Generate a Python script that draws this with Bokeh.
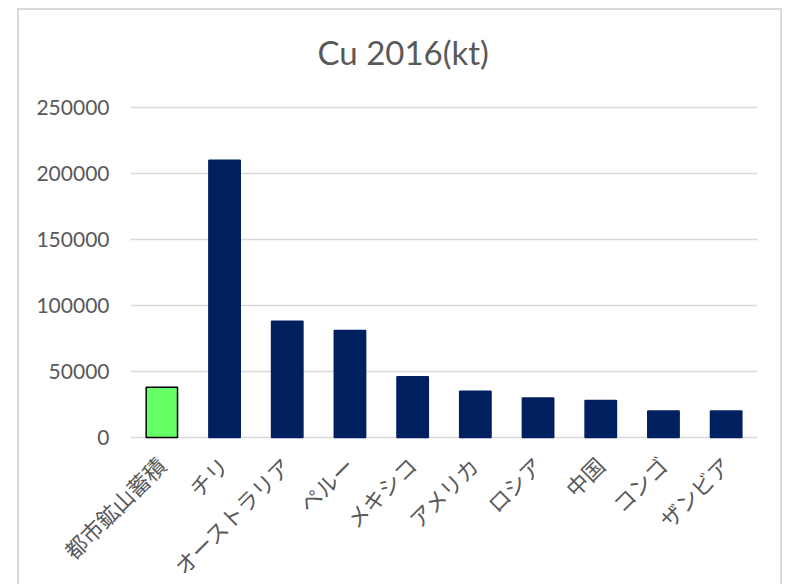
import math
from bokeh.plotting import figure
from bokeh.layouts import row, column
from bokeh.models import Range1d, Label, ColumnDataSource, Spacer
from bokeh.core.properties import value
from bokeh.embed import file_html
from bokeh.resources import INLINE

# ---- data ----
categories = ["都市鉱山蓄積", "チリ", "オーストラリア", "ペルー", "メキシコ",
              "アメリカ", "ロシア", "中国", "コンゴ", "ザンビア"]
values = [38000, 210000, 88000, 81000, 46000, 35000, 30000, 28000, 20000, 20000]
y_ticks = [0, 50000, 100000, 150000, 200000, 250000]
y_tick_labels = ["0", "50000", "100000", "150000", "200000", "250000"]
highlight = "都市鉱山蓄積"
title_text = "Cu 2016(kt)"

n = len(categories)
pos = [i + 0.5 for i in range(n)]          # category slot centres
fill = ["#66FF66" if c == highlight else "#002060" for c in categories]
edge = ["#000000" if c == highlight else "#002060" for c in categories]
src = ColumnDataSource(dict(x=pos, cat=categories, val=values, base=[0] * n,
                            fill=fill, edge=edge))
tsrc = ColumnDataSource(dict(x0=[0] * len(y_ticks), x1=[n] * len(y_ticks),
                             y=y_ticks, lab=y_tick_labels))

# pixel layout of the canvas (frame = whole canvas)
CANVAS_W, CANVAS_H = 765, 576
LEFT, RIGHT = 111, 27          # room left / right of the category slots
ABOVE, PLOT_H = 97, 330        # room above 250000 / height of 0..250000
BELOW = CANVAS_H - ABOVE - PLOT_H
px_per_slot = (CANVAS_W - LEFT - RIGHT) / n
units_per_px = (y_ticks[-1] - y_ticks[0]) / PLOT_H

p = figure(x_range=Range1d(-LEFT / px_per_slot, n + RIGHT / px_per_slot),
           y_range=Range1d(y_ticks[0] - BELOW * units_per_px,
                           y_ticks[-1] + ABOVE * units_per_px),
           width=CANVAS_W, height=CANVAS_H, title=None,
           x_axis_location=None, y_axis_location=None,
           output_backend="svg", toolbar_location=None,
           min_border_left=0, min_border_right=0,
           min_border_top=0, min_border_bottom=0)
p.styles = {"border-left": "2px solid #D9D9D9",
            "border-top": "2px solid #D9D9D9",
            "border-right": "2px solid #D9D9D9"}
p.outline_line_color = None
p.grid.visible = False

# horizontal gridlines (the one at 0 doubles as the category axis line)
p.segment(x0="x0", x1="x1", y0="y", y1="y", source=tsrc,
          line_color="#D9D9D9", line_width=1.5)
# value-axis tick labels
p.text(x="x0", y="y", text="lab", source=tsrc, x_offset=-21,
       text_align="right", text_baseline="middle",
       text_font=value("Lato"), text_font_size="21px", text_color="#595959")

p.vbar(x="x", top="val", width=0.5, source=src,
       fill_color="fill", line_color="edge", line_width=1.5)

# category labels, rotated 45 degrees
p.text(x="x", y="base", text="cat", source=src, angle=math.pi / 4,
       text_align="right", text_baseline="middle", x_offset=-1, y_offset=23,
       text_font=value("Noto Sans CJK JP"), text_font_size="22px",
       text_color="#595959")

p.add_layout(Label(x=298, y=CANVAS_H - 67 + 10 + 16, x_units="screen", y_units="screen",
                   text=title_text, text_font="Lato", text_font_size="33px",
                   text_color="#595959", text_align="left",
                   text_baseline="alphabetic"))

layout = column(Spacer(height=8), row(Spacer(width=17), p))
open("out.html", "w").write(file_html(layout, INLINE))
